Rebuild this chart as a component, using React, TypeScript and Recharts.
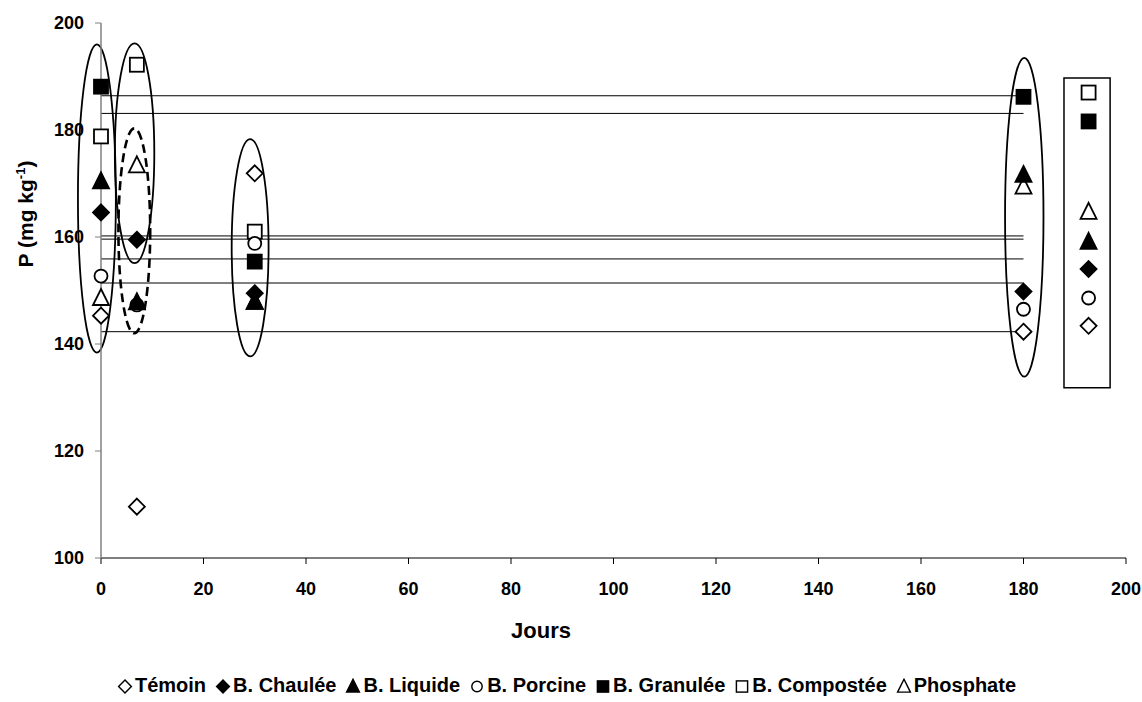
import React from 'react';
import {
  ScatterChart, Scatter, XAxis, YAxis, ReferenceLine, ReferenceArea
} from 'recharts';

// sampling days and P values (mg/kg)
const days = [0, 7, 30, 180];
const temoin = [145.3, 109.6, 171.9, 142.3];
const chaulee = [164.6, 159.5, 149.5, 149.8];
const liquide = [170.4, 147.8, 147.9, 171.6];
const porcine = [152.7, 147.3, 158.8, 146.5];
const granulee = [188.1, null, 155.4, 186.2];
const compostee = [178.8, 192.2, 161.0, null];
const phosphate = [148.6, 173.4, 147.9, 169.4];

// horizontal reference lines (from day 0 to day 180)
const refLevels = [186.4, 183.1, 160.2, 159.6, 155.9, 151.4, 142.3];

// markers stacked in the box on the right
const boxDay = 192.7;
const boxLevels = [143.4, 154.0, 159.1, 148.6, 181.6, 187.0, 164.7];

// ellipses around the clusters: [x1, x2, y1, y2]
const ellipses = [
  [-4.5, 2.9, 138.4, 196.0],
  [2.7, 10.4, 155.1, 196.2],
  [25.5, 32.7, 137.7, 178.3],
  [176.4, 183.9, 133.9, 193.5],
];
const dashedEllipse = [3.4, 9.6, 142.0, 180.3];
const boxArea = [187.9, 196.9, 131.8, 189.7];

const xTicks = [0, 20, 40, 60, 80, 100, 120, 140, 160, 180, 200];
const yTicks = [100, 120, 140, 160, 180, 200];

const FONT = '"Liberation Sans", Arial, sans-serif';

type Kind = 'square' | 'diamond' | 'triangle' | 'circle';

const Marker = ({ kind, filled, cx, cy, k = 1 }: { kind: Kind; filled: boolean; cx: number; cy: number; k?: number }) => {
  const fill = filled ? '#000' : '#fff';
  const sw = 1.8 * k;
  if (kind === 'square') {
    const h = 7 * k;
    return <rect x={cx - h} y={cy - h} width={2 * h} height={2 * h} fill={fill} stroke="#000" strokeWidth={sw} />;
  }
  if (kind === 'diamond') {
    const r = 8 * k;
    return <polygon points={`${cx},${cy - r} ${cx + r},${cy} ${cx},${cy + r} ${cx - r},${cy}`} fill={fill} stroke="#000" strokeWidth={sw} />;
  }
  if (kind === 'triangle') {
    const w = 8 * k;
    return <polygon points={`${cx},${cy - 9 * k} ${cx + w},${cy + 7 * k} ${cx - w},${cy + 7 * k}`} fill={fill} stroke="#000" strokeWidth={sw} strokeLinejoin="miter" />;
  }
  return <circle cx={cx} cy={cy} r={6.5 * k} fill={fill} stroke="#000" strokeWidth={sw} />;
};

// legend order
const series = [
  { name: 'Témoin', values: temoin, kind: 'diamond' as Kind, filled: false },
  { name: 'B. Chaulée', values: chaulee, kind: 'diamond' as Kind, filled: true },
  { name: 'B. Liquide', values: liquide, kind: 'triangle' as Kind, filled: true },
  { name: 'B. Porcine', values: porcine, kind: 'circle' as Kind, filled: false },
  { name: 'B. Granulée', values: granulee, kind: 'square' as Kind, filled: true },
  { name: 'B. Compostée', values: compostee, kind: 'square' as Kind, filled: false },
  { name: 'Phosphate', values: phosphate, kind: 'triangle' as Kind, filled: false },
];
// drawing order (which marker ends up on top)
const drawOrder = [0, 1, 5, 3, 6, 2, 4];

const toPoints = (values: (number | null)[], i: number) => {
  const pts = days
    .map((d, j) => ({ x: d, y: values[j] }))
    .filter(p => p.y !== null);
  pts.push({ x: boxDay, y: boxLevels[i] });
  return pts;
};

const ellipseShape = (dashed: boolean) => (p: any) => (
  <ellipse
    cx={p.x + p.width / 2}
    cy={p.y + p.height / 2}
    rx={Math.abs(p.width) / 2}
    ry={Math.abs(p.height) / 2}
    fill="none"
    stroke="#000"
    strokeWidth={dashed ? 2.6 : 1.8}
    strokeDasharray={dashed ? '9 5' : undefined}
  />
);

const tickStyle = { fontSize: 18, fontWeight: 'bold', fill: '#000', fontFamily: FONT };

export default function App() {
  return (
    <div style={{ position: 'absolute', left: 0, top: 0, width: 1142, height: 702, background: '#fff' }}>
      <ScatterChart width={1142} height={702} margin={{ top: 23, right: 16, left: 1, bottom: 0 }}>
        <XAxis
          type="number"
          dataKey="x"
          domain={[0, 200]}
          ticks={xTicks}
          interval={0}
          height={144}
          tick={tickStyle}
          tickSize={6}
          tickMargin={18}
          axisLine={{ stroke: '#000', strokeWidth: 1 }}
          tickLine={{ stroke: '#000' }}
          label={{
            content: ({ viewBox }: any) => (
              <text x={541} y={viewBox.y + 80} textAnchor="middle" fontSize={22} fontWeight="bold" fontFamily={FONT}>Jours</text>
            ),
          }}
        />
        <YAxis
          type="number"
          dataKey="y"
          domain={[100, 200]}
          ticks={yTicks}
          interval={0}
          width={100}
          tick={tickStyle}
          tickSize={6}
          tickMargin={11}
          axisLine={{ stroke: '#808080', strokeWidth: 1.5 }}
          tickLine={{ stroke: '#808080' }}
          label={{
            content: () => (
              <text transform="translate(33,214) rotate(-90)" textAnchor="middle" fontSize={21} fontWeight="bold" fontFamily={FONT}>
                P (mg kg<tspan dy={-8} fontSize={13}>-1</tspan><tspan dy={8}>)</tspan>
              </text>
            ),
          }}
        />
        {ellipses.map((e, i) => (
          <ReferenceArea key={`el-${i}`} x1={e[0]} x2={e[1]} y1={e[2]} y2={e[3]} ifOverflow="visible" shape={ellipseShape(false)} />
        ))}
        <ReferenceArea x1={dashedEllipse[0]} x2={dashedEllipse[1]} y1={dashedEllipse[2]} y2={dashedEllipse[3]} ifOverflow="visible" shape={ellipseShape(true)} />
        <ReferenceArea x1={boxArea[0]} x2={boxArea[1]} y1={boxArea[2]} y2={boxArea[3]} ifOverflow="visible" fill="#fff" fillOpacity={1} stroke="#000" strokeWidth={1.5} />
        {drawOrder.map(i => {
          const s = series[i];
          return (
            <Scatter
              key={s.name}
              name={s.name}
              data={toPoints(s.values, i)}
              isAnimationActive={false}
              shape={(p: any) => <Marker kind={s.kind} filled={s.filled} cx={p.cx} cy={p.cy} />}
            />
          );
        })}
        {refLevels.map((v, i) => (
          <ReferenceLine key={`rl-${i}`} segment={[{ x: 0, y: v }, { x: 180, y: v }]} stroke="#000" strokeWidth={1} />
        ))}
      </ScatterChart>
      <div
        style={{
          position: 'absolute', left: 0, top: 674, width: 1142, textAlign: 'center',
          fontFamily: FONT, fontWeight: 'bold', fontSize: 20, whiteSpace: 'nowrap',
        }}
      >
        {series.map(s => (
          <span key={s.name} style={{ marginRight: 9, display: 'inline-flex', alignItems: 'center' }}>
            <svg width={16} height={16} style={{ marginRight: 2 }}>
              <Marker kind={s.kind} filled={s.filled} cx={8} cy={8.5} k={0.8} />
            </svg>
            {s.name}
          </span>
        ))}
      </div>
    </div>
  );
}
